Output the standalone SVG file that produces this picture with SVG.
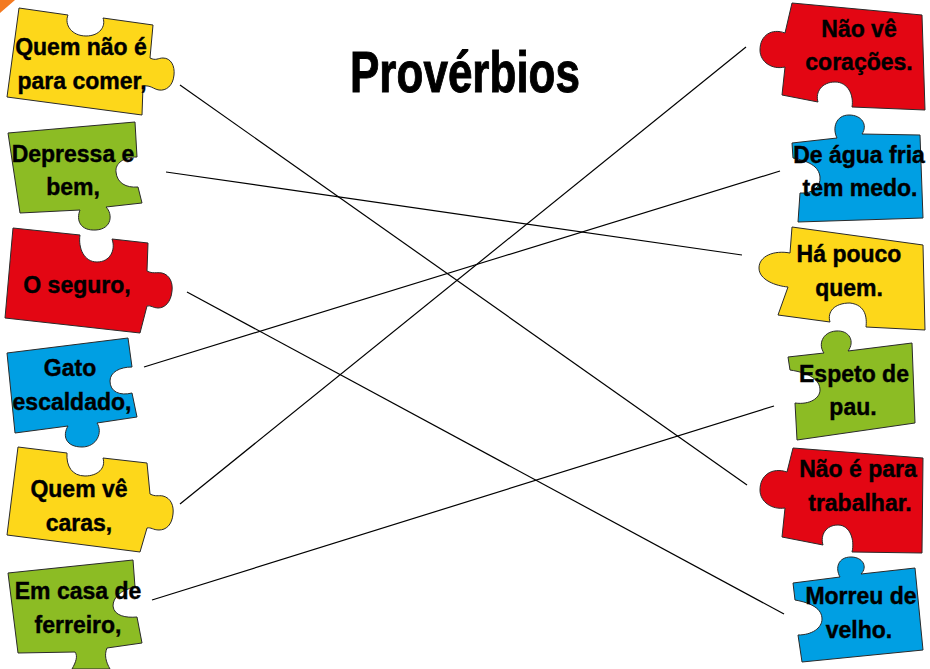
<svg xmlns="http://www.w3.org/2000/svg" width="930" height="669" viewBox="0 0 930 669">
<style>
.p{stroke:#2a2a2a;stroke-width:1;stroke-linejoin:round}
.y{fill:#FDD71A}.g{fill:#8CBC24}.r{fill:#E30613}.b{fill:#009FE3}
.t{font-family:"Liberation Sans",Arial,sans-serif;font-weight:bold;font-size:23px;fill:#000;stroke:#000;stroke-width:0.4;text-anchor:middle}
.c{stroke:#000;stroke-width:1.2;fill:none}
</style>
<rect width="930" height="669" fill="#fff"/>
<polygon points="0,0 15,0 0,13" fill="#F47A20"/>
<text x="465" y="92" font-family="'Liberation Sans',Arial,sans-serif" font-weight="bold" font-size="58" stroke="#000" stroke-width="1" text-anchor="middle" textLength="230" lengthAdjust="spacingAndGlyphs">Provérbios</text>

<g id="left1"><path class="p y" d="M19,8 L68,15 C64,25 72,36 86,36 C100,36 106,26 103,18 L153,25 L150,58 C156,61 158,58 163,58 C171,58 175,66 174,75 C173,86 166,91 159,90 C153,89 151,85 143,86 L142,115 L7,97 Z"/>
<text class="t" x="81" y="55">Quem não é</text><text class="t" x="82" y="89">para comer,</text></g>

<g id="left2"><path class="p g" d="M8,133 L135,122 L137,157 C124,157 115,163 116,172 C117,183 126,188 138,187 L142,203 L106,207 C113,214 112,229 96,230 C80,231 76,220 80,210 L20,213 Z"/>
<text class="t" x="73" y="162">Depressa e</text><text class="t" x="73" y="195">bem,</text></g>

<g id="left3"><path class="p r" d="M13,228 L80,235 C78,248 84,262 97,262 C110,262 116,250 112,239 L148,243 L147,271 C153,274 156,272 162,273 C170,275 173,283 172,291 C171,302 165,308 158,308 C153,308 151,305 147,306 L140,333 L5,318 Z"/>
<text class="t" x="77" y="293">O seguro,</text></g>

<g id="left4"><path class="p b" d="M7,353 L128,338 L132,367 C120,367 110,372 110,381 C110,392 120,396 132,393 L137,417 L97,423 C103,432 97,447 82,447 C66,447 62,436 68,426 L15,433 Z"/>
<text class="t" x="70" y="376">Gato</text><text class="t" x="72" y="410">escaldado,</text></g>

<g id="left5"><path class="p y" d="M18,447 L67,453 C66,466 72,476 85,476 C98,476 106,468 103,458 L147,463 L150,494 C156,497 158,495 163,496 C171,498 174,506 173,514 C172,525 166,530 159,530 C153,530 151,527 147,528 L140,552 L7,535 Z"/>
<text class="t" x="79" y="497">Quem vê</text><text class="t" x="79" y="531">caras,</text></g>

<g id="left6"><path class="p g" d="M8,573 L133,560 L135,587 C120,590 113,598 113,606 C114,616 126,618 137,617 L142,643 L107,648 C104,655 106,662 110,669 L72,669 C76,662 78,656 75,652 L18,653 Z"/>
<text class="t" x="78" y="599">Em casa de</text><text class="t" x="78" y="633">ferreiro,</text></g>

<g id="right1"><path class="p r" d="M792,3 L922,15 L925,110 L852,107 C854,95 848,82 835,82 C822,82 815,92 818,102 L782,95 L785,67 C772,70 760,62 760,50 C760,35 772,28 785,33 Z"/>
<text class="t" x="859" y="37">Não vê</text><text class="t" x="859" y="70">corações.</text></g>

<g id="right2"><path class="p b" d="M792,143 L837,138 C832,128 836,115 849,115 C862,115 868,125 862,134 L920,135 L923,218 L798,222 L800,193 C812,194 821,187 820,177 C819,166 808,161 793,158 Z"/>
<text class="t" x="859" y="163">De água fria</text><text class="t" x="860" y="196">tem medo.</text></g>

<g id="right3"><path class="p y" d="M792,227 L923,245 L925,330 L866,327 C867,318 866,305 850,303 C834,303 827,312 830,322 L778,315 L788,287 C776,286 759,280 759,268 C759,256 774,250 790,253 Z"/>
<text class="t" x="849" y="262">Há pouco</text><text class="t" x="849" y="296">quem.</text></g>

<g id="right4"><path class="p g" d="M788,357 L824,353 C818,345 822,332 836,331 C850,330 855,342 848,351 L912,343 L915,423 L797,440 L795,403 C810,405 820,398 820,390 C820,380 810,373 790,370 Z"/>
<text class="t" x="854" y="382">Espeto de</text><text class="t" x="853" y="415">pau.</text></g>

<g id="right5"><path class="p r" d="M793,448 L923,458 L922,553 L852,552 C855,540 850,525 838,525 C826,525 820,535 823,545 L782,537 L785,508 C772,510 760,502 760,490 C760,475 772,467 787,472 Z"/>
<text class="t" x="858" y="477">Não é para</text><text class="t" x="860" y="511">trabalhar.</text></g>

<g id="right6"><path class="p b" d="M793,583 L840,577 C835,568 838,557 851,557 C863,557 868,567 861,574 L915,568 L923,650 L802,662 L798,635 C812,635 822,628 822,619 C822,609 812,603 795,600 Z"/>
<text class="t" x="861" y="604">Morreu de</text><text class="t" x="859" y="638">velho.</text></g>

<g id="connectors">
<line class="c" x1="180" y1="85" x2="747" y2="485"/>
<line class="c" x1="166" y1="172" x2="742" y2="255"/>
<line class="c" x1="187" y1="292" x2="784" y2="614"/>
<line class="c" x1="144" y1="367" x2="780" y2="171"/>
<line class="c" x1="180" y1="504" x2="746" y2="47"/>
<line class="c" x1="152" y1="600" x2="774" y2="406"/>
</g>
</svg>
